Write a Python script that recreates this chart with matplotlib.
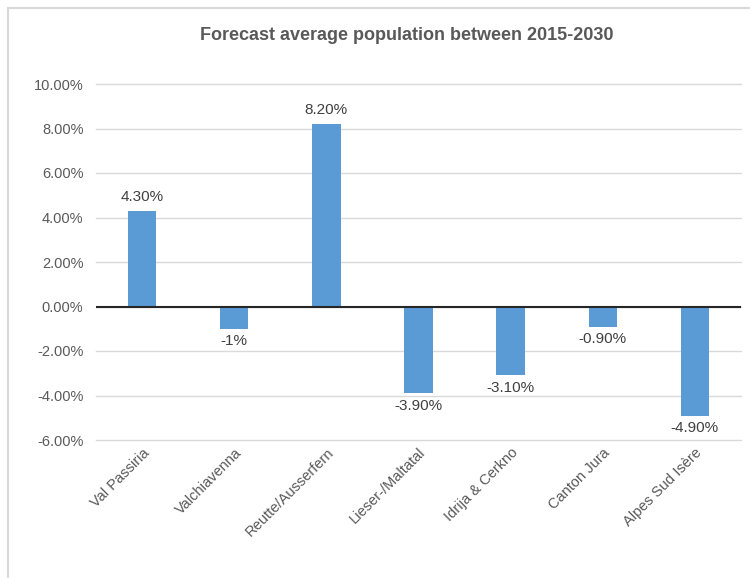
import matplotlib
matplotlib.use("Agg")
import matplotlib.pyplot as plt
from matplotlib.patches import Rectangle
from matplotlib.ticker import FuncFormatter, MultipleLocator

plt.rcParams['font.family'] = ['Liberation Sans', 'DejaVu Sans']

categories = ["Val Passiria", "Valchiavenna", "Reutte/Ausserfern", "Lieser-/Maltatal",
              "Idrija & Cerkno", "Canton Jura", "Alpes Sud Isère"]
values = [4.3, -1.0, 8.2, -3.9, -3.1, -0.9, -4.9]
labels = ["4.30%", "-1%", "8.20%", "-3.90%", "-3.10%", "-0.90%", "-4.90%"]

fig = plt.figure(figsize=(7.5, 5.78), dpi=100)
fig.patch.set_facecolor('white')
# outer chart border
fig.patches.append(Rectangle((8/750, -0.1), 1.2, 1 - 8/578 + 0.1, transform=fig.transFigure,
                             fill=False, edgecolor='#d9d9d9', linewidth=1.5))

ax = fig.add_axes([96/750, 1 - 440/578, (741 - 96)/750, (440 - 84)/578])
x = range(len(categories))
ax.bar(x, values, width=0.31, color='#5b9bd5', zorder=3)
ax.set_xlim(-0.5, len(categories) - 0.5)
ax.set_ylim(-6, 10)
ax.yaxis.set_major_locator(MultipleLocator(2))
ax.yaxis.set_major_formatter(FuncFormatter(lambda v, p: f"{v:.2f}%"))
ax.grid(axis='y', color='#d9d9d9', linewidth=1, zorder=0)
for gl in ax.get_ygridlines():
    gl.set_clip_on(False)
ax.axhline(0, color='#262626', linewidth=1.5, zorder=4)
for s in ax.spines.values():
    s.set_visible(False)
ax.tick_params(axis='both', length=0, colors='#595959', labelsize=10.5)
ax.tick_params(axis='y', pad=9)
ax.set_xticks(list(x))
ax.set_xticklabels(categories, rotation=45, ha='right', rotation_mode='anchor')
ax.tick_params(axis='x', pad=4)

for i, (v, lab) in enumerate(zip(values, labels)):
    if v >= 0:
        ax.annotate(lab, (i, v), xytext=(0, 5), textcoords='offset points',
                    ha='center', va='bottom', fontsize=11, color='#404040')
    else:
        ax.annotate(lab, (i, v), xytext=(0, -4), textcoords='offset points',
                    ha='center', va='top', fontsize=11, color='#404040')

fig.text(407/750, 1 - 35/578, "Forecast average population between 2015-2030",
         ha='center', va='center', fontsize=13, fontweight='bold', color='#595959')

fig.savefig("out.png", dpi=100)
